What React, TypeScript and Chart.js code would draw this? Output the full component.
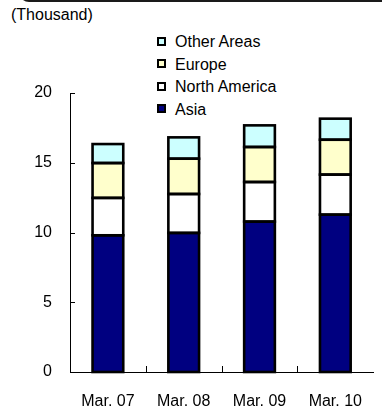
import React, { useEffect, useRef } from "react";
import { Chart, registerables } from "chart.js";

Chart.register(...registerables);

const categories = ["Mar. 07", "Mar. 08", "Mar. 09", "Mar. 10"];
const asia = [9.8, 9.97, 10.78, 11.28];
const northAmerica = [2.68, 2.79, 2.84, 2.87];
const europe = [2.5, 2.53, 2.51, 2.5];
const otherAreas = [1.36, 1.53, 1.55, 1.51];
const yTicks = [0, 5, 10, 15, 20];

const FONT = "'Liberation Sans', Arial, sans-serif";

const legendItems = [
  { label: "Other Areas", color: "#CCFFFF" },
  { label: "Europe", color: "#FFFFCC" },
  { label: "North America", color: "#FFFFFF" },
  { label: "Asia", color: "#000080" },
];

const outlines = {
  id: "outlines",
  afterDatasetsDraw(chart: any) {
    const { ctx } = chart;
    ctx.save();
    ctx.strokeStyle = "#000";
    ctx.lineWidth = 2.6;
    ctx.lineJoin = "miter";
    chart.data.datasets.forEach((_: any, di: number) => {
      const meta = chart.getDatasetMeta(di);
      meta.data.forEach((el: any) => {
        const p = el.getProps(["x", "y", "base", "width"], true);
        const left = p.x - p.width / 2;
        const top = Math.min(p.y, p.base);
        const h = Math.abs(p.base - p.y);
        ctx.strokeRect(left, top, p.width, h);
      });
    });
    ctx.restore();
  },
};

const innerTicks = {
  id: "innerTicks",
  afterDraw(chart: any) {
    const { ctx, chartArea, scales } = chart;
    const x = scales.x;
    const y = scales.y;
    ctx.save();
    ctx.strokeStyle = "#000";
    ctx.lineWidth = 1;
    ctx.beginPath();
    for (const v of yTicks) {
      const py = Math.round(y.getPixelForValue(v)) + 0.5;
      ctx.moveTo(chartArea.left, py);
      ctx.lineTo(chartArea.left + 5, py);
    }
    for (let i = 1; i < categories.length; i++) {
      const px = Math.round((x.getPixelForValue(i - 1) + x.getPixelForValue(i)) / 2) + 0.5;
      ctx.moveTo(px, chartArea.bottom);
      ctx.lineTo(px, chartArea.bottom - 6);
    }
    ctx.stroke();
    ctx.restore();
  },
};

export default function App() {
  const ref = useRef<HTMLCanvasElement | null>(null);

  useEffect(() => {
    if (!ref.current) return;
    const mk = (label: string, data: number[], color: string) => ({
      label,
      data,
      backgroundColor: color,
      borderWidth: 0,
      categoryPercentage: 1,
      barPercentage: 0.405,
    });
    const chart = new Chart(ref.current, {
      type: "bar",
      data: {
        labels: categories,
        datasets: [
          mk("Asia", asia, "#000080"),
          mk("North America", northAmerica, "#FFFFFF"),
          mk("Europe", europe, "#FFFFCC"),
          mk("Other Areas", otherAreas, "#CCFFFF"),
        ],
      },
      options: {
        animation: false,
        responsive: false,
        layout: { padding: { top: 93, left: 0, right: 0, bottom: 0 } },
        plugins: { legend: { display: false }, tooltip: { enabled: false } },
        scales: {
          x: {
            stacked: true,
            grid: { display: false, drawTicks: false },
            border: { display: true, color: "#000", width: 1 },
            ticks: { color: "#000", font: { family: FONT, size: 16 }, padding: 20, maxRotation: 0 },
            afterFit: (s: any) => {
              s.height = 37;
            },
          },
          y: {
            stacked: true,
            min: 0,
            max: 20,
            grid: { display: false, drawTicks: false },
            border: { display: true, color: "#000", width: 1 },
            ticks: {
              color: "#000",
              font: { family: FONT, size: 16 },
              padding: 18,
              stepSize: 5,
            },
            afterFit: (s: any) => {
              s.width = 70;
            },
          },
        },
      },
      plugins: [outlines, innerTicks],
    });
    return () => chart.destroy();
  }, []);

  return (
    <div
      style={{
        position: "absolute",
        left: 0,
        top: 0,
        width: 382,
        height: 409,
        overflow: "hidden",
        background: "#fff",
        fontFamily: FONT,
      }}
    >
      <div
        style={{
          position: "absolute",
          left: 19,
          top: -28,
          width: 420,
          height: 30,
          border: "2px solid #1a1a1a",
          borderRadius: 10,
          boxSizing: "border-box",
        }}
      />
      <div
        style={{
          position: "absolute",
          left: 11,
          top: 5,
          fontSize: 16,
          lineHeight: "20px",
          color: "#000",
          whiteSpace: "nowrap",
        }}
      >
        (Thousand)
      </div>
      {legendItems.map((it, i) => (
        <div
          key={it.label}
          style={{
            position: "absolute",
            left: 157,
            top: 31 + i * 22.5,
            height: 22,
            display: "flex",
            alignItems: "center",
            fontSize: 16,
            lineHeight: "22px",
            color: "#000",
            whiteSpace: "nowrap",
          }}
        >
          <span
            style={{
              display: "inline-block",
              width: 9,
              height: 9,
              boxSizing: "border-box",
              border: "2px solid #000",
              background: it.color,
              marginRight: 9,
              marginTop: -2,
            }}
          />
          {it.label}
        </div>
      ))}
      <canvas ref={ref} width={382} height={409} style={{ position: "absolute", left: 0, top: 0 }} />
    </div>
  );
}
